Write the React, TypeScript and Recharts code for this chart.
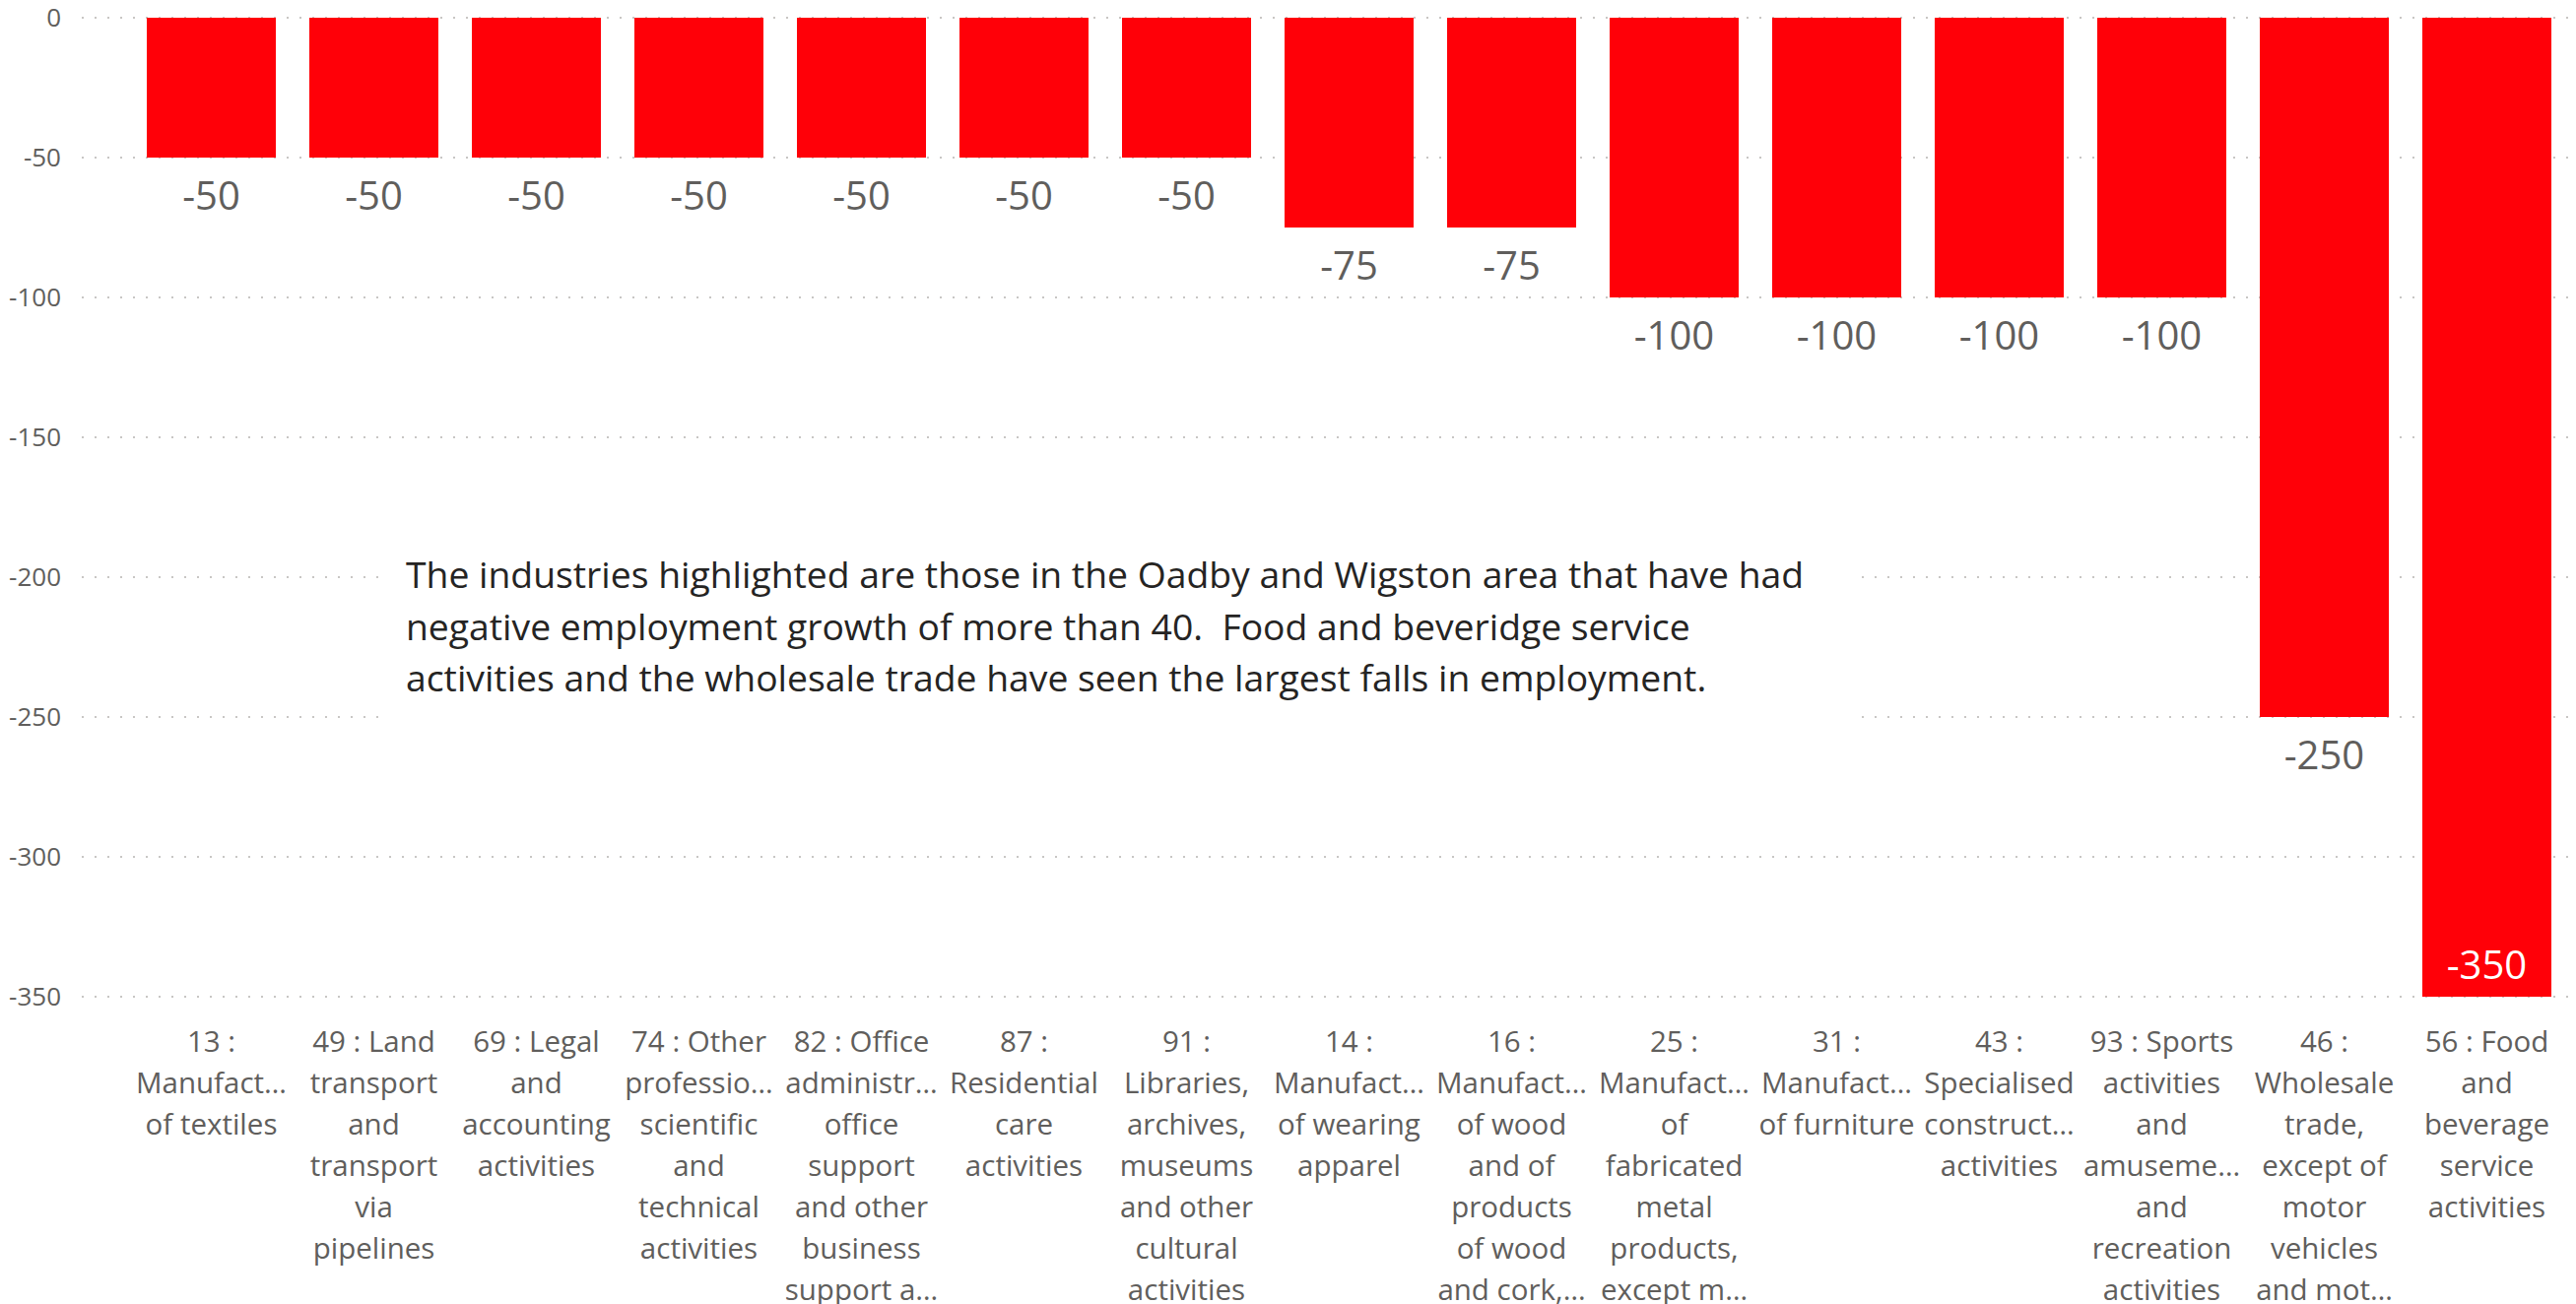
import React from 'react';
import { BarChart, Bar, XAxis, YAxis, CartesianGrid, LabelList } from 'recharts';

const categories = [
  '13 :|Manufact…|of textiles',
  '49 : Land|transport|and|transport|via|pipelines',
  '69 : Legal|and|accounting|activities',
  '74 : Other|professio…|scientific|and|technical|activities',
  '82 : Office|administr…|office|support|and other|business|support a…',
  '87 :|Residential|care|activities',
  '91 :|Libraries,|archives,|museums|and other|cultural|activities',
  '14 :|Manufact…|of wearing|apparel',
  '16 :|Manufact…|of wood|and of|products|of wood|and cork,…',
  '25 :|Manufact…|of|fabricated|metal|products,|except m…',
  '31 :|Manufact…|of furniture',
  '43 :|Specialised|construct…|activities',
  '93 : Sports|activities|and|amuseme…|and|recreation|activities',
  '46 :|Wholesale|trade,|except of|motor|vehicles|and mot…',
  '56 : Food|and|beverage|service|activities',
];

const values = [-50, -50, -50, -50, -50, -50, -50, -75, -75, -100, -100, -100, -100, -250, -350];

const yTicks = [0, -50, -100, -150, -200, -250, -300, -350];

const annotationLines = [
  'The industries highlighted are those in the Oadby and Wigston area that have had',
  'negative employment growth of more than 40.  Food and beveridge service',
  'activities and the wholesale trade have seen the largest falls in employment.',
];

const data = categories.map((c, i) => ({ name: c, value: values[i] }));

const W = 2615;
const H = 1324;
const X_AXIS_H = 312;
const PLOT_BOTTOM = H - X_AXIS_H;
const FONT = "'Segoe UI', 'Open Sans', sans-serif";
const GRAY = '#605E5C';
const RED = '#FF0008';

const XTick = (props: any) => {
  const { x, y, payload } = props;
  const lines = String(payload.value).split('|');
  return (
    <g>
      {lines.map((l, i) => (
        <text key={i} x={x} y={y + 56 + i * 42} textAnchor="middle" fill={GRAY} fontSize={29.5} fontFamily={FONT}>
          {l}
        </text>
      ))}
    </g>
  );
};

const YTick = (props: any) => {
  const { x, y, payload } = props;
  return (
    <text x={x - 21} y={y} dy="0.36em" textAnchor="end" fill={GRAY} fontSize={26} fontFamily={FONT}>
      {payload.value}
    </text>
  );
};

const BarLabel = (props: any) => {
  const { x, y, width, height, value } = props;
  const bottom = Math.max(y, y + height);
  const cx = x + width / 2;
  if (bottom + 60 > PLOT_BOTTOM) {
    return (
      <text x={cx} y={bottom - 18} textAnchor="middle" fill="#FFFFFF" fontSize={40} fontFamily={FONT}>
        {value}
      </text>
    );
  }
  return (
    <text x={cx} y={bottom + 53} textAnchor="middle" fill={GRAY} fontSize={40} fontFamily={FONT}>
      {value}
    </text>
  );
};

export default function App() {
  return (
    <div style={{ position: 'absolute', left: 0, top: 0, width: W, height: H, background: '#fff' }}>
      <BarChart width={W} height={H} data={data} margin={{ top: 18, right: 8, left: 0, bottom: 0 }}>
        <CartesianGrid vertical={false} stroke="#C8C6C4" strokeWidth={2} strokeDasharray="2 11" />
        <XAxis
          dataKey="name"
          height={X_AXIS_H}
          interval={0}
          tick={<XTick />}
          tickLine={false}
          axisLine={false}
          tickSize={0}
          tickMargin={0}
          padding={{ left: 49, right: 0 }}
        />
        <YAxis
          width={83}
          domain={[-350, 0]}
          ticks={yTicks}
          tick={<YTick />}
          tickLine={false}
          axisLine={false}
          tickSize={0}
          tickMargin={0}
          allowDataOverflow
        />
        <Bar dataKey="value" fill={RED} barSize={131} isAnimationActive={false}>
          <LabelList dataKey="value" content={<BarLabel />} />
        </Bar>
      </BarChart>
      <div
        style={{
          position: 'absolute',
          left: 395,
          top: 540,
          width: 1490,
          height: 210,
          background: '#fff',
          boxSizing: 'border-box',
          paddingLeft: 17,
          paddingTop: 17,
          fontFamily: FONT,
          fontSize: 37.3,
          lineHeight: '52.5px',
          color: '#252423',
        }}
      >
        {annotationLines.map((l, i) => (
          <div key={i} style={{ whiteSpace: 'pre' }}>
            {l}
          </div>
        ))}
      </div>
    </div>
  );
}
